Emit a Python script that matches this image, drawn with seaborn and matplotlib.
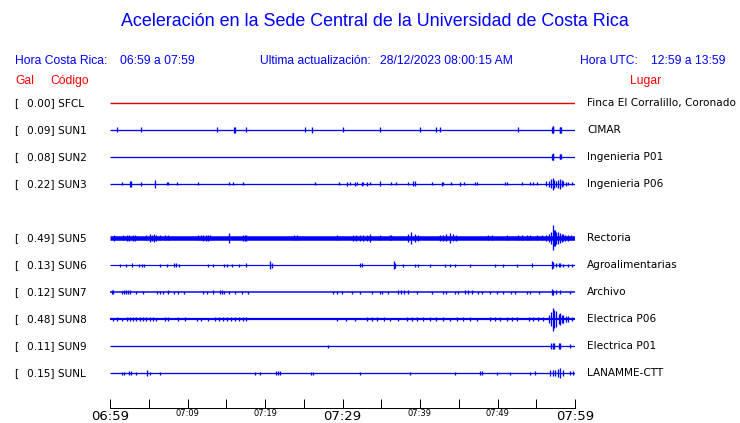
import numpy as np
import pandas as pd
import matplotlib
matplotlib.use("Agg")
import matplotlib.pyplot as plt
import matplotlib.transforms as mtransforms
import seaborn as sns

# ---------------- data ----------------
codes = ["SFCL", "SUN1", "SUN2", "SUN3", "SUN5", "SUN6", "SUN7", "SUN8", "SUN9", "SUNL"]
rows = [0, 1, 2, 3, 5, 6, 7, 8, 9, 10]
gal = [0.00, 0.09, 0.08, 0.22, 0.49, 0.13, 0.12, 0.48, 0.11, 0.15]
places = ["Finca El Corralillo, Coronado", "CIMAR", "Ingenieria P01", "Ingenieria P06",
          "Rectoria", "Agroalimentarias", "Archivo", "Electrica P06", "Electrica P01",
          "LANAMME-CTT"]
# background noise band (trace units)
noise = [1.4, 1.3, 1.3, 1.3, 4.5, 1.2, 1.5, 2.2, 1.3, 1.3]

# events: minutes after 06:59, half amplitude (trace units)
sfcl_t, sfcl_a = [], []
sun1_t = [0.9, 4.0, 13.8, 16.0, 16.1, 17.5, 25.1, 26.1, 30.1, 34.8, 40.0, 42.0, 42.6, 52.7,
          57.0, 57.1, 57.2, 58.0, 58.1, 58.2]
sun1_a = [2.5, 2.5, 2.5, 3, 3, 2.5, 2.5, 3, 2.5, 2.5, 2.5, 2.5, 2.5, 2.5,
          3, 3.5, 3.5, 3, 3, 3]
sun2_t = [57.0, 57.1, 57.2, 58.0, 58.1, 58.2]
sun2_a = [3, 3.5, 3, 2.5, 2.5, 2.5]
sun3_t = [1.6, 2.6, 2.7, 4.0, 5.8, 7.3, 7.5, 8.6, 11.4, 15.4, 15.9, 17.2, 26.4, 29.6, 30.6,
          31.0, 31.6, 31.9, 32.5, 32.7, 33.1, 33.5, 34.8, 36.3, 36.9, 38.5, 39.1, 39.3, 41.6,
          42.8, 43.0, 44.0, 45.1, 45.7, 47.1, 47.3, 51.0, 51.2, 53.1, 54.2, 54.6, 55.1, 56.3,
          56.6, 56.9, 57.1, 57.3, 57.5, 57.8, 58.1, 58.3, 58.5, 58.8, 59.1, 59.6]
sun3_a = [1.5, 3, 3, 2, 4, 1.5, 1.5, 1.5, 1.5, 1.5, 1.5, 1.5, 1.5, 1.5, 2,
          1.5, 2, 1.5, 2, 1.5, 2, 1.5, 2.5, 1.5, 1.5, 1.5, 2.5, 2.5, 1.5,
          2, 1.5, 1.5, 2, 1.5, 1.5, 1.5, 1.5, 1.5, 1.5, 1.5, 1.5, 1.5, 2.5,
          3, 4.5, 6, 4, 3, 4, 5, 3.5, 2.5, 2, 1.5, 1.5]
sun5_t = [0.5, 1.7, 2.2, 2.4, 3.0, 3.2, 4.6, 5.1, 5.4, 5.7, 5.9, 6.5, 7.1, 7.5, 11.4, 11.8,
          12.0, 12.4, 12.6, 12.9, 15.4, 17.1, 17.4, 17.6, 23.7, 24.1, 29.3, 31.4, 31.8, 32.3,
          32.7, 33.1, 33.5, 34.8, 36.1, 36.3, 38.5, 38.9, 39.4, 39.7, 42.6, 43.0, 43.4, 43.9,
          44.3, 44.7, 48.8, 49.3, 51.2, 52.7, 53.1, 53.8, 54.2, 55.1, 55.7, 56.3, 56.6, 56.9,
          57.1, 57.3, 57.4, 57.6, 57.8, 58.1, 58.3, 58.5, 58.7, 59.1, 59.5]
sun5_a = [3, 2.5, 3, 3, 3, 3, 2.5, 4, 3, 4, 3, 2.5, 2.5, 2.5, 2.5, 2.5,
          3, 3, 3, 2.5, 5, 3, 3, 3, 2.5, 2.5, 2.5, 3, 3, 3,
          3, 3, 4, 2.5, 2.5, 2.5, 4, 6, 4, 3, 3, 3, 3.5, 5,
          3.5, 3, 2.5, 2.5, 2.5, 2.5, 2.5, 2.5, 2.5, 2.5, 2.5, 3, 4, 6,
          12.5, 8, 8, 6, 6, 5, 4, 3.5, 3, 3, 2.5]
sun6_t = [1.3, 2.1, 2.9, 3.7, 4.1, 4.4, 6.4, 7.3, 8.3, 8.5, 8.9, 12.6, 13.3, 14.7, 15.1, 15.8,
          16.7, 17.5, 20.6, 20.9, 32.3, 32.5, 36.6, 36.8, 37.8, 39.4, 39.8, 41.3, 43.2, 43.9,
          44.5, 46.5, 49.7, 50.7, 52.5, 54.4, 57.0, 57.2, 57.6, 57.9, 58.1, 58.5, 59.1, 59.6]
sun6_a = [1.5, 1.5, 2, 1.5, 1.5, 1.5, 1.5, 1.5, 2, 2, 1.5, 1.5, 1.5, 1.5, 1.5, 1.5,
          1.5, 2, 4, 2.5, 2, 2, 4, 2.5, 1.5, 1.5, 1.5, 1.5, 1.5, 1.5,
          1.5, 1.5, 1.5, 1.5, 1.5, 2, 4, 3, 2, 2, 2, 1.5, 1.5, 1.5]
sun7_t = [0.2, 0.4, 1.5, 1.8, 2.1, 2.3, 2.6, 3.4, 4.2, 6.0, 6.5, 6.9, 7.5, 8.2, 8.8, 9.5,
          12.0, 12.5, 13.3, 14.2, 14.4, 14.7, 15.3, 16.1, 17.0, 17.8, 28.8, 29.3, 29.9, 31.2,
          32.3, 33.8, 34.8, 35.1, 35.9, 37.2, 37.5, 37.9, 38.5, 39.6, 41.5, 43.0, 43.4, 44.5,
          44.9, 45.8, 46.2, 46.7, 47.5, 48.0, 49.0, 49.9, 50.7, 51.8, 52.3, 53.8, 54.2, 55.3,
          57.0, 57.2, 57.6, 58.1, 59.4]
sun7_a = [2, 2, 1.5, 2, 2, 2, 2, 1.5, 1.5, 1.5, 1.5, 1.5, 2, 1.5, 1.5, 1.5,
          1.5, 1.5, 2, 2, 2, 1.5, 1.5, 1.5, 1.5, 1.5, 1.5, 1.5, 1.5, 1.5,
          1.5, 1.5, 1.5, 1.5, 1.5, 2, 2, 2, 2, 1.5, 1.5, 1.5, 1.5, 1.5,
          1.5, 2, 2, 2, 1.5, 1.5, 1.5, 1.5, 1.5, 1.5, 1.5, 1.5, 1.5, 1.5,
          3, 2.5, 2, 2, 1.5]
sun8_t = [0.4, 0.9, 1.5, 2.2, 2.6, 3.0, 3.4, 3.9, 4.3, 4.6, 5.2, 5.6, 5.9, 7.1, 7.5, 8.8,
          9.7, 11.2, 11.8, 12.7, 13.5, 14.1, 14.6, 15.1, 15.6, 16.1, 16.6, 17.2, 17.6, 29.3,
          30.5, 31.6, 33.2, 33.8, 34.5, 35.3, 36.1, 37.2, 38.3, 39.0, 39.6, 40.4, 41.3, 42.1,
          43.0, 43.9, 44.8, 45.5, 46.5, 47.3, 49.0, 49.7, 50.3, 51.2, 51.9, 52.5, 54.0, 54.6,
          55.2, 55.9, 56.6, 56.9, 57.1, 57.3, 57.6, 57.9, 58.1, 58.3, 58.5, 58.8, 59.1, 59.6]
sun8_a = [1.5, 2, 1.5, 2, 2, 2, 2, 2, 2, 2, 2, 2, 1.5, 2, 2, 2,
          2, 1.5, 1.5, 1.5, 2, 2, 2, 2, 2, 2, 2, 2, 2, 1.5,
          1.5, 1.5, 2, 2, 2, 2, 1.5, 1.5, 2, 2, 2, 2, 2, 2,
          2, 1.5, 2, 2, 2, 1.5, 2, 2, 2, 2, 2, 2, 2, 2,
          2, 2, 4, 7, 11.5, 9, 8, 5, 6, 4, 4, 3, 3, 2]
sun9_t = [28.1, 56.9, 57.1, 57.3, 57.9, 58.1, 59.3]
sun9_a = [1.5, 2.5, 3, 2.5, 2.5, 2.5, 2]
sunl_t = [1.5, 1.8, 2.5, 2.7, 3.4, 4.8, 5.1, 6.5, 18.7, 19.4, 21.4, 21.7, 21.9, 25.9, 26.2,
          32.3, 38.7, 44.5, 47.7, 48.0, 49.9, 51.6, 54.2, 54.8, 56.8, 57.1, 57.4, 57.8, 58.1,
          58.4, 59.3, 59.8]
sunl_a = [1.5, 1.5, 2, 2, 1.5, 2.5, 1.5, 1.5, 1.5, 1.5, 2, 2, 2, 1.5, 1.5,
          1.5, 1.5, 1.5, 2, 2, 1.5, 1.5, 1.5, 2, 3, 3, 2.5, 4, 5,
          3, 2, 2]
event_times = [sfcl_t, sun1_t, sun2_t, sun3_t, sun5_t, sun6_t, sun7_t, sun8_t, sun9_t, sunl_t]
event_amps = [sfcl_a, sun1_a, sun2_a, sun3_a, sun5_a, sun6_a, sun7_a, sun8_a, sun9_a, sunl_a]

tick_minutes = [0, 5, 10, 15, 20, 25, 30, 35, 40, 45, 50, 55, 60]
label_minutes = [0, 10, 20, 30, 40, 50, 60]
tick_labels = ["06:59", "07:09", "07:19", "07:29", "07:39", "07:49", "07:59"]
big_labels = ["06:59", "07:29", "07:59"]

title = "Aceleración en la Sede Central de la Universidad de Costa Rica"

# ---------------- figure ----------------
sns.set_theme(style="white")
plt.rcParams["font.family"] = ["DejaVu Sans"]

W, H = 740, 423
fig = plt.figure(figsize=(W / 100, H / 100), dpi=100)
fig.patch.set_facecolor("white")

BLUE = "#0000ff"
RED = "#ff0000"
PX = 0.72  # points per pixel

def fx(x):
    return x / W

def fy(y):
    return 1 - y / H

ROW0, ROWSTEP = 103, 27  # px
X0, X1 = 110, 575
top_px, bot_px = 88, 392
ax = fig.add_axes([fx(X0), fy(bot_px), (X1 - X0) / W, (bot_px - top_px) / H])

unit = 1.0 / ROWSTEP  # rows per trace unit (1 px)

base_df = pd.DataFrame({
    "minute": np.concatenate([[0, 60] for _ in codes]),
    "row": np.repeat(rows, 2),
    "code": np.repeat(codes, 2),
})
for i, code in enumerate(codes):
    col = "#e00000" if code == "SFCL" else BLUE
    sub = base_df[base_df["code"] == code]
    sns.lineplot(data=sub, x="minute", y="row", ax=ax, color=col,
                 linewidth=noise[i] * PX, solid_capstyle="butt", legend=False)
    t = np.asarray(event_times[i], dtype=float)
    a = np.asarray(event_amps[i], dtype=float)
    if len(t):
        ax.vlines(t, rows[i] - a * unit, rows[i] + a * unit, color=col,
                  linewidth=1.3 * PX, clip_on=False)
ax.set_xlim(0, 60)
ax.set_ylim((bot_px - ROW0) / ROWSTEP, (top_px - ROW0) / ROWSTEP)
ax.axis("off")

# time axis
axis_y = 408
axt = fig.add_axes([fx(X0), fy(axis_y), (X1 - X0) / W, 0.001])
axt.set_xlim(0, 60)
axt.set_yticks([])
for s in ["top", "left", "right"]:
    axt.spines[s].set_visible(False)
axt.spines["bottom"].set_visible(True)
axt.spines["bottom"].set_color("black")
axt.spines["bottom"].set_linewidth(1.0 * PX)
axt.set_facecolor("none")
axt.set_xticks(tick_minutes)
axt.set_xticklabels([])
axt.tick_params(axis="x", which="major", bottom=True, direction="in", length=9 * PX,
                width=1.0 * PX, color="black", labelbottom=False)
trans = mtransforms.blended_transform_factory(axt.transData, fig.transFigure)
for m, lab in zip(label_minutes, tick_labels):
    if lab in big_labels:
        axt.text(m, fy(419.5), lab, transform=trans, ha="center", va="baseline",
                 fontsize=9.5, color="black", clip_on=False)
    else:
        axt.text(m, fy(416), lab, transform=trans, ha="center", va="baseline",
                 fontsize=6, color="black", clip_on=False)

# header texts
fig.text(0.507, fy(22), title, ha="center", va="center", color=BLUE,
         fontsize=12.9, family="Liberation Sans")
hfont = dict(color=BLUE, fontsize=8.7, family="Liberation Sans", va="center", ha="left")
fig.text(fx(15), fy(61), "Hora Costa Rica:", **hfont)
fig.text(fx(120), fy(61), "06:59 a 07:59", **hfont)
fig.text(fx(260), fy(61), "Ultima actualización:", **hfont)
fig.text(fx(380), fy(61), "28/12/2023 08:00:15 AM", **hfont)
fig.text(fx(580), fy(61), "Hora UTC:", **hfont)
fig.text(fx(651), fy(61), "12:59 a 13:59", **hfont)
rfont = dict(color=RED, fontsize=8.7, family="Liberation Sans", va="center", ha="left")
fig.text(fx(15), fy(81), "Gal", **rfont)
fig.text(fx(50), fy(81), "Código", **rfont)
fig.text(fx(630), fy(81), "Lugar", **rfont)

# row labels
for i, code in enumerate(codes):
    ypx = ROW0 + ROWSTEP * rows[i]
    fig.text(fx(14), fy(ypx), "[", ha="left", va="center", fontsize=7.6, color="black")
    fig.text(fx(27), fy(ypx), f"{gal[i]:.2f}] {code}", ha="left", va="center",
             fontsize=7.6, color="black")
    fig.text(fx(587), fy(ypx), places[i], ha="left", va="center", fontsize=7.6,
             color="black")

fig.savefig("out.png", dpi=100, facecolor="white")
